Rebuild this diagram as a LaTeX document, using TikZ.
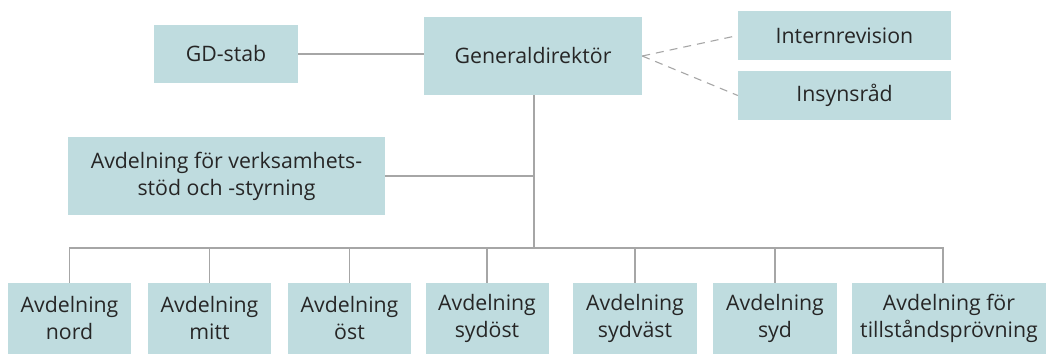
\documentclass[tikz,border=0pt]{standalone}
\usepackage{fontspec}
\setmainfont{Open Sans}
\definecolor{boxfill}{HTML}{BFDCDF}
\definecolor{linegray}{HTML}{A6A6A6}
\definecolor{txt}{HTML}{262626}
\begin{document}
\begin{tikzpicture}[x=1pt,y=-1pt,
  box/.style={fill=boxfill,inner sep=0pt,text=txt,align=center,
    font=\fontsize{21.3}{27}\selectfont},
  conn/.style={draw=linegray,line width=1.3pt},
  dconn/.style={draw=linegray,line width=1.1pt,dash pattern=on 8pt off 6pt}]
\useasboundingbox (0,0) rectangle (1046,354);
\node[box,minimum width=144pt,minimum height=58pt] (gdstab) at (226,54) {GD-stab};
\node[box,minimum width=218pt,minimum height=78pt] (gd) at (533,56) {Generaldirektör};
\node[box,minimum width=213pt,minimum height=49pt] (intern) at (844.5,35.5) {Internrevision};
\node[box,minimum width=213pt,minimum height=49pt] (insyn) at (844.5,95.5) {Insynsråd};
\node[box,minimum width=317pt,minimum height=78pt] (verk) at (226.5,176) {Avdelning för verksamhets-\\stöd och -styrning};
\node[box,minimum width=123pt,minimum height=71pt] (nord) at (69.5,318.5) {Avdelning\\nord};
\node[box,minimum width=123pt,minimum height=71pt] (mitt) at (209.5,318.5) {Avdelning\\mitt};
\node[box,minimum width=123pt,minimum height=71pt] (ost) at (349.5,318.5) {Avdelning\\öst};
\node[box,minimum width=123pt,minimum height=71pt] (sydost) at (487,318.5) {Avdelning\\sydöst};
\node[box,minimum width=124pt,minimum height=71pt] (sydvast) at (635,318.5) {Avdelning\\sydväst};
\node[box,minimum width=124pt,minimum height=71pt] (syd) at (775,318.5) {Avdelning\\syd};
\node[box,minimum width=195pt,minimum height=71pt] (tillst) at (949,318.5) {Avdelning för\\tillståndsprövning};
\coordinate (bus) at (534,248);
\draw[conn] (gdstab.east) -- (gd.west |- gdstab.east);
\draw[conn] (gd.south -| bus) -- (bus);
\draw[conn] (verk.east) -- (verk.east -| bus);
\draw[conn] (nord.north) -- (nord.north |- bus) -- ([xshift=-6pt]tillst.north |- bus) -- ([xshift=-6pt]tillst.north);
\foreach \n in {mitt,ost,sydost,sydvast,syd}
  \draw[conn] (\n.north) -- (\n.north |- bus);
\draw[dconn] (gd.east) -- (intern.west);
\draw[dconn] (gd.east) -- (insyn.west);
\end{tikzpicture}
\end{document}
